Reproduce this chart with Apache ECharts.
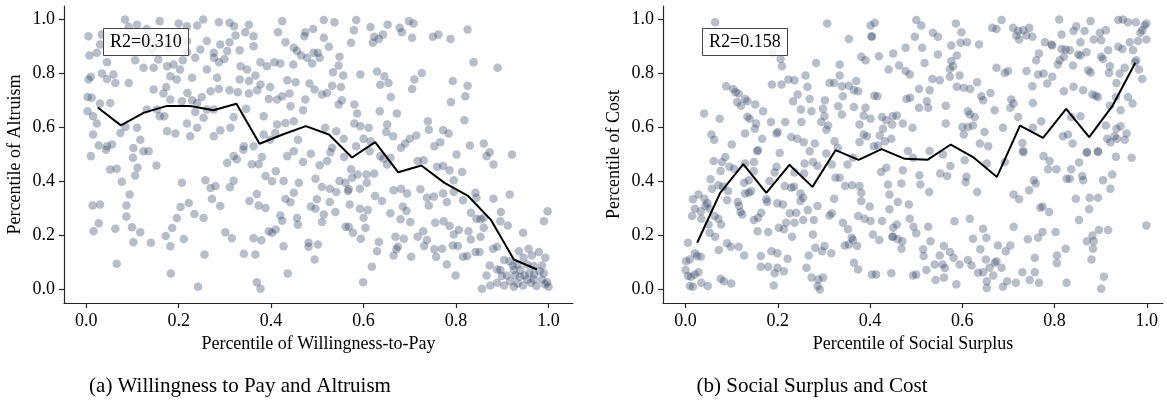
<!DOCTYPE html>
<html>
<head>
<meta charset="utf-8">
<script src="https://cdn.jsdelivr.net/npm/echarts@6/dist/echarts.min.js"></script>
<style>
html, body { margin: 0; padding: 0; background: #fff; }
#chart { width: 1167px; height: 402px; }
</style>
</head>
<body>
<div id="chart"></div>
<script>
const tickValues = [0, 0.2, 0.4, 0.6, 0.8, 1.0]
const binCenters = [0.025, 0.075, 0.125, 0.175, 0.225, 0.275, 0.325, 0.375, 0.425, 0.475,
                    0.525, 0.575, 0.625, 0.675, 0.725, 0.775, 0.825, 0.875, 0.925, 0.975]

// (a) percentile of willingness-to-pay vs percentile of altruism
const wtpAltruismPoints = [
  [0.005,0.938],[0.084,1.0],[0.11,0.981],[0.092,0.973],[0.131,0.965],[0.159,0.994],[0.2,0.985],[0.218,0.975],
  [0.253,1.0],[0.24,0.978],[0.287,0.99],[0.31,0.988],[0.32,0.975],[0.352,0.981],[0.424,0.994],[0.034,0.944],
  [0.261,0.92],[0.29,0.907],[0.31,0.916],[0.323,0.941],[0.344,0.953],[0.362,0.938],[0.415,0.953],[0.431,0.916],
  [0.449,0.895],[0.456,0.883],[0.247,0.889],[0.276,0.877],[0.332,0.886],[0.362,0.901],[0.03,0.907],[0.023,0.877],
  [0.007,0.867],[0.045,0.842],[0.106,0.849],[0.124,0.821],[0.142,0.889],[0.156,0.852],[0.146,0.821],[0.175,0.827],
  [0.189,0.833],[0.182,0.79],[0.203,0.815],[0.209,0.849],[0.218,0.879],[0.236,0.858],[0.276,0.858],[0.287,0.842],
  [0.299,0.854],[0.305,0.883],[0.334,0.827],[0.348,0.815],[0.332,0.778],[0.352,0.772],[0.366,0.793],[0.377,0.842],
  [0.391,0.827],[0.407,0.842],[0.42,0.837],[0.448,0.833],[0.377,0.759],[0.398,0.75],[0.435,0.775],[0.453,0.768],
  [0.37,0.738],[0.352,0.726],[0.328,0.731],[0.31,0.738],[0.287,0.743],[0.269,0.734],[0.25,0.713],[0.24,0.691],
  [0.219,0.728],[0.196,0.778],[0.173,0.75],[0.229,0.784],[0.261,0.815],[0.283,0.784],[0.005,0.778],[0.01,0.788],
  [0.034,0.8],[0.045,0.78],[0.059,0.796],[0.063,0.765],[0.092,0.765],[0.003,0.713],[0.012,0.71],[0.03,0.689],
  [0.052,0.691],[0.003,0.66],[0.015,0.642],[0.023,0.615],[0.015,0.574],[0.027,0.533],[0.045,0.531],[0.056,0.537],
  [0.01,0.494],[0.074,0.58],[0.085,0.602],[0.11,0.599],[0.117,0.555],[0.102,0.524],[0.135,0.512],[0.131,0.667],
  [0.153,0.667],[0.159,0.642],[0.169,0.642],[0.146,0.741],[0.167,0.726],[0.182,0.704],[0.207,0.697],[0.229,0.701],
  [0.236,0.657],[0.254,0.636],[0.261,0.667],[0.276,0.667],[0.175,0.586],[0.193,0.578],[0.225,0.568],[0.218,0.615],
  [0.24,0.599],[0.276,0.568],[0.29,0.59],[0.312,0.599],[0.319,0.639],[0.346,0.669],[0.384,0.642],[0.384,0.574],
  [0.398,0.555],[0.409,0.58],[0.413,0.611],[0.431,0.617],[0.449,0.623],[0.319,0.494],[0.341,0.531],[0.362,0.531],
  [0.38,0.491],[0.435,0.494],[0.449,0.512],[0.458,0.555],[0.442,0.679],[0.395,0.706],[0.413,0.704],[0.424,0.716],
  [0.117,0.932],[0.13,0.916],[0.153,0.907],[0.178,0.895],[0.218,0.92],[0.2,0.928],
  [0.043,0.518],[0.052,0.444],[0.066,0.447],[0.077,0.399],[0.106,0.422],[0.111,0.451],[0.101,0.488],[0.124,0.512],
  [0.152,0.459],[0.014,0.311],[0.03,0.315],[0.016,0.216],[0.027,0.245],[0.063,0.225],[0.066,0.095],[0.087,0.311],
  [0.094,0.352],[0.087,0.27],[0.099,0.231],[0.102,0.175],[0.117,0.212],[0.14,0.173],[0.172,0.198],[0.182,0.16],
  [0.186,0.228],[0.196,0.265],[0.204,0.306],[0.207,0.395],[0.211,0.187],[0.222,0.32],[0.234,0.28],[0.254,0.265],
  [0.256,0.13],[0.258,0.405],[0.269,0.376],[0.28,0.383],[0.272,0.335],[0.29,0.309],[0.183,0.059],[0.242,0.01],
  [0.301,0.212],[0.311,0.379],[0.319,0.403],[0.305,0.469],[0.326,0.482],[0.34,0.518],[0.315,0.19],[0.341,0.132],
  [0.353,0.328],[0.358,0.464],[0.373,0.464],[0.369,0.354],[0.373,0.311],[0.362,0.19],[0.366,0.13],[0.379,0.182],
  [0.369,0.027],[0.377,0.003],[0.388,0.42],[0.388,0.302],[0.395,0.216],[0.402,0.401],[0.402,0.21],[0.41,0.222],
  [0.41,0.438],[0.42,0.274],[0.424,0.255],[0.427,0.16],[0.431,0.335],[0.436,0.059],[0.442,0.323],[0.449,0.358],
  [0.456,0.265],[0.458,0.24],[0.46,0.395],
  [0.514,0.998],[0.537,0.99],[0.584,0.998],[0.615,0.972],[0.652,0.981],[0.678,0.969],[0.698,0.994],[0.708,0.985],
  [0.683,0.953],[0.75,0.936],[0.762,0.944],[0.788,0.928],[0.825,0.963],[0.474,0.953],[0.472,0.938],[0.491,0.965],
  [0.465,0.867],[0.478,0.858],[0.492,0.877],[0.501,0.877],[0.505,0.858],[0.489,0.837],[0.514,0.932],[0.525,0.899],
  [0.579,0.96],[0.573,0.914],[0.62,0.914],[0.623,0.936],[0.633,0.928],[0.642,0.944],[0.705,0.932],[0.548,0.862],
  [0.546,0.83],[0.534,0.805],[0.556,0.793],[0.593,0.796],[0.629,0.807],[0.645,0.79],[0.654,0.765],[0.636,0.758],
  [0.71,0.778],[0.726,0.802],[0.705,0.743],[0.793,0.772],[0.825,0.755],[0.838,0.842],[0.89,0.821],[0.82,0.716],
  [0.789,0.694],[0.818,0.627],[0.483,0.763],[0.494,0.741],[0.51,0.722],[0.521,0.728],[0.532,0.755],[0.551,0.75],
  [0.44,0.726],[0.474,0.704],[0.469,0.664],[0.546,0.685],[0.553,0.701],[0.58,0.685],[0.586,0.652],[0.635,0.66],
  [0.659,0.713],[0.672,0.652],[0.517,0.599],[0.541,0.586],[0.58,0.615],[0.593,0.605],[0.611,0.599],[0.651,0.611],
  [0.557,0.558],[0.6,0.558],[0.615,0.549],[0.649,0.583],[0.664,0.568],[0.739,0.623],[0.741,0.592],[0.772,0.59],
  [0.784,0.578],[0.714,0.57],[0.7,0.558],[0.69,0.541],[0.681,0.525],[0.753,0.531],[0.766,0.545],[0.801,0.5],
  [0.83,0.533],[0.86,0.541],[0.873,0.508],[0.866,0.494],[0.921,0.5],[0.486,0.503],[0.528,0.508],[0.532,0.525],
  [0.584,0.531],[0.613,0.512],[0.558,0.491],
  [0.469,0.472],[0.505,0.46],[0.521,0.476],[0.636,0.494],[0.643,0.484],[0.651,0.463],[0.658,0.488],[0.717,0.476],
  [0.73,0.479],[0.759,0.455],[0.772,0.457],[0.786,0.442],[0.795,0.405],[0.813,0.435],[0.881,0.463],[0.427,0.402],
  [0.496,0.41],[0.51,0.38],[0.527,0.373],[0.541,0.361],[0.548,0.402],[0.561,0.395],[0.568,0.371],[0.575,0.414],
  [0.573,0.445],[0.587,0.426],[0.607,0.395],[0.606,0.426],[0.623,0.43],[0.592,0.373],[0.566,0.365],[0.499,0.334],
  [0.496,0.299],[0.486,0.307],[0.527,0.324],[0.539,0.287],[0.514,0.278],[0.51,0.25],[0.57,0.315],[0.592,0.299],
  [0.609,0.294],[0.6,0.266],[0.561,0.232],[0.568,0.232],[0.577,0.21],[0.594,0.188],[0.604,0.229],[0.625,0.346],
  [0.64,0.328],[0.665,0.368],[0.681,0.373],[0.694,0.356],[0.658,0.282],[0.685,0.307],[0.693,0.291],[0.701,0.25],
  [0.68,0.26],[0.669,0.195],[0.687,0.188],[0.674,0.158],[0.671,0.149],[0.665,0.126],[0.633,0.176],[0.629,0.142],
  [0.703,0.121],[0.618,0.084],[0.599,0.027],[0.481,0.173],[0.481,0.158],[0.501,0.167],[0.494,0.111],[0.723,0.371],
  [0.737,0.34],[0.741,0.311],[0.752,0.344],[0.772,0.356],[0.78,0.324],[0.795,0.361],[0.815,0.331],[0.842,0.358],
  [0.844,0.34],[0.832,0.284],[0.844,0.262],[0.853,0.26],[0.86,0.266],[0.881,0.336],[0.897,0.287],[0.916,0.352],
  [0.896,0.253],[0.912,0.237],[0.945,0.21],[0.998,0.29],[0.99,0.253],[0.755,0.247],[0.773,0.253],[0.786,0.235],
  [0.806,0.22],[0.795,0.204],[0.827,0.216],[0.832,0.185],[0.853,0.195],[0.86,0.229],[0.717,0.195],[0.737,0.183],
  [0.729,0.216],[0.731,0.161],[0.753,0.149],[0.77,0.151],[0.757,0.121],[0.78,0.093],[0.793,0.163],[0.804,0.161],
  [0.815,0.121],[0.824,0.124],[0.842,0.139],[0.851,0.139],[0.799,0.052],[0.88,0.151],[0.889,0.158],[0.873,0.089],
  [0.866,0.052],[0.856,0.003],[0.874,0.015],[0.896,0.072],[0.904,0.109],[0.916,0.105],[0.923,0.089],[0.936,0.142],
  [0.957,0.151],[0.979,0.139],[0.993,0.118],[0.964,0.126],[0.946,0.118],[0.933,0.093],[0.939,0.072],[0.954,0.093],
  [0.968,0.087],[0.986,0.089],[0.981,0.068],[0.928,0.052],[0.938,0.047],[0.948,0.052],[0.959,0.062],[0.969,0.056],
  [0.99,0.06],[0.91,0.052],[0.917,0.031],[0.933,0.022],[0.945,0.015],[0.962,0.025],[0.974,0.013],[0.993,0.019],
  [1.0,0.01],[0.997,0.027],[0.889,0.025],[0.904,0.015],[0.925,0.01],[0.986,0.037],[0.954,0.037],[0.968,0.037],
  [0.889,0.074],[0.899,0.05],[0.925,0.072]
]
const wtpAltruismBinMeans = [0.674, 0.608, 0.655, 0.68, 0.68, 0.664, 0.688, 0.54, 0.574, 0.605,
                             0.574, 0.489, 0.546, 0.434, 0.459, 0.395, 0.348, 0.259, 0.111, 0.074]

// (b) percentile of social surplus vs percentile of cost
const surplusCostPoints = [
  [0.064,0.99],[0.307,0.985],[0.401,0.978],[0.41,0.988],[0.354,0.928],[0.404,0.936],[0.189,0.879],[0.206,0.854],
  [0.209,0.827],[0.283,0.839],[0.334,0.833],[0.381,0.862],[0.39,0.849],[0.419,0.864],[0.44,0.815],[0.45,0.874],
  [0.088,0.753],[0.103,0.743],[0.108,0.731],[0.115,0.726],[0.112,0.694],[0.12,0.681],[0.134,0.697],[0.151,0.685],
  [0.187,0.759],[0.208,0.759],[0.223,0.778],[0.236,0.775],[0.243,0.722],[0.233,0.697],[0.26,0.793],[0.264,0.751],
  [0.269,0.706],[0.25,0.667],[0.273,0.66],[0.302,0.701],[0.312,0.765],[0.322,0.765],[0.334,0.793],[0.339,0.753],
  [0.354,0.755],[0.37,0.772],[0.365,0.738],[0.374,0.734],[0.341,0.716],[0.331,0.679],[0.339,0.648],[0.298,0.669],
  [0.301,0.642],[0.294,0.62],[0.365,0.676],[0.39,0.673],[0.386,0.644],[0.401,0.632],[0.409,0.718],[0.416,0.716],
  [0.426,0.639],[0.435,0.627],[0.449,0.642],[0.428,0.595],[0.386,0.574],[0.393,0.568],[0.421,0.57],[0.04,0.652],
  [0.074,0.632],[0.056,0.574],[0.062,0.555],[0.1,0.537],[0.086,0.491],[0.129,0.706],[0.134,0.64],[0.139,0.632],
  [0.153,0.615],[0.129,0.578],[0.15,0.595],[0.166,0.558],[0.168,0.66],[0.185,0.62],[0.197,0.578],[0.2,0.583],
  [0.216,0.62],[0.229,0.565],[0.242,0.558],[0.256,0.545],[0.28,0.541],[0.269,0.512],[0.204,0.506],[0.157,0.516],
  [0.251,0.62],[0.309,0.607],[0.305,0.592],[0.323,0.549],[0.33,0.525],[0.377,0.546],[0.408,0.531],[0.417,0.533],
  [0.432,0.549],[0.446,0.558],[0.377,0.611],[0.305,0.504],
  [0.061,0.476],[0.079,0.472],[0.095,0.455],[0.105,0.447],[0.076,0.439],[0.054,0.408],[0.071,0.386],[0.081,0.381],
  [0.092,0.365],[0.057,0.373],[0.028,0.352],[0.016,0.334],[0.041,0.336],[0.02,0.299],[0.033,0.29],[0.043,0.309],
  [0.047,0.319],[0.052,0.299],[0.034,0.262],[0.014,0.272],[0.063,0.272],[0.071,0.262],[0.077,0.241],[0.05,0.241],
  [0.052,0.21],[0.064,0.195],[0.005,0.173],[0.001,0.105],[0.009,0.111],[0.02,0.134],[0.025,0.124],[0.033,0.121],
  [0.0,0.072],[0.005,0.05],[0.012,0.047],[0.02,0.056],[0.009,0.013],[0.016,0.01],[0.034,0.025],[0.048,0.013],
  [0.028,0.064],[0.072,0.146],[0.09,0.171],[0.098,0.158],[0.115,0.158],[0.127,0.126],[0.076,0.04],[0.083,0.031],
  [0.099,0.022],[0.09,0.331],[0.113,0.324],[0.116,0.309],[0.123,0.278],[0.119,0.287],[0.129,0.356],[0.137,0.358],
  [0.142,0.365],[0.127,0.395],[0.137,0.405],[0.148,0.439],[0.148,0.472],[0.155,0.513],[0.129,0.467],[0.148,0.257],
  [0.157,0.266],[0.164,0.284],[0.156,0.216],[0.179,0.213],[0.175,0.334],[0.177,0.324],[0.199,0.319],[0.211,0.315],
  [0.202,0.229],[0.213,0.223],[0.218,0.247],[0.226,0.282],[0.236,0.247],[0.231,0.195],[0.24,0.284],[0.255,0.257],
  [0.265,0.294],[0.278,0.257],[0.276,0.204],[0.286,0.309],[0.249,0.356],[0.255,0.34],[0.249,0.328],[0.235,0.381],
  [0.215,0.383],[0.229,0.377],[0.236,0.433],[0.257,0.43],[0.258,0.467],[0.193,0.433],[0.182,0.402],[0.197,0.455],
  [0.276,0.472],[0.286,0.457],[0.317,0.463],[0.325,0.414],[0.334,0.414],[0.322,0.336],[0.312,0.274],[0.317,0.282],
  [0.346,0.383],[0.361,0.386],[0.377,0.383],[0.351,0.463],[0.363,0.488],[0.381,0.358],[0.381,0.328],[0.399,0.307],
  [0.374,0.272],[0.388,0.262],[0.401,0.254],[0.426,0.254],[0.341,0.247],[0.352,0.223],[0.36,0.192],[0.363,0.183],
  [0.345,0.163],[0.354,0.167],[0.372,0.161],[0.406,0.204],[0.42,0.183],[0.365,0.099],[0.374,0.074],[0.404,0.056],
  [0.413,0.056],[0.442,0.352],[0.442,0.297],[0.439,0.389],[0.424,0.435],[0.435,0.451],[0.448,0.195],[0.45,0.229],
  [0.446,0.06],[0.163,0.124],[0.163,0.084],[0.179,0.084],[0.186,0.142],[0.199,0.134],[0.199,0.081],[0.193,0.06],
  [0.221,0.114],[0.213,0.068],[0.191,0.015],[0.262,0.081],[0.267,0.126],[0.281,0.155],[0.296,0.142],[0.316,0.134],
  [0.301,0.161],[0.273,0.044],[0.288,0.037],[0.298,0.044],[0.286,0.013],[0.291,0.0],
  [0.403,0.938],[0.5,0.998],[0.511,0.978],[0.586,0.985],[0.685,0.998],[0.665,0.969],[0.674,0.965],[0.71,0.969],
  [0.721,0.957],[0.732,0.96],[0.745,0.969],[0.717,0.941],[0.739,0.941],[0.752,0.936],[0.723,0.926],[0.81,1.0],
  [0.847,0.975],[0.841,0.957],[0.878,0.994],[0.865,0.957],[0.898,0.951],[0.911,0.96],[0.938,0.998],[0.948,1.0],
  [0.959,0.99],[0.976,0.99],[0.995,0.978],[0.999,0.985],[0.99,0.96],[0.986,0.951],[0.999,0.926],[0.981,0.92],
  [0.815,0.944],[0.497,0.936],[0.536,0.951],[0.547,0.936],[0.598,0.953],[0.596,0.914],[0.61,0.916],[0.576,0.904],
  [0.636,0.907],[0.477,0.895],[0.513,0.895],[0.518,0.839],[0.547,0.87],[0.576,0.846],[0.588,0.867],[0.573,0.817],
  [0.58,0.827],[0.594,0.793],[0.573,0.788],[0.477,0.809],[0.486,0.796],[0.463,0.83],[0.535,0.78],[0.551,0.775],
  [0.632,0.768],[0.588,0.751],[0.603,0.747],[0.617,0.743],[0.506,0.743],[0.529,0.738],[0.479,0.706],[0.487,0.71],
  [0.523,0.697],[0.526,0.673],[0.506,0.673],[0.564,0.681],[0.641,0.716],[0.645,0.701],[0.661,0.728],[0.67,0.664],
  [0.706,0.704],[0.711,0.689],[0.704,0.673],[0.721,0.639],[0.612,0.66],[0.616,0.648],[0.627,0.639],[0.448,0.611],
  [0.458,0.644],[0.471,0.615],[0.492,0.599],[0.564,0.615],[0.6,0.602],[0.612,0.602],[0.623,0.607],[0.603,0.574],
  [0.648,0.583],[0.688,0.599],[0.73,0.543],[0.732,0.508],[0.753,0.599],[0.771,0.623],[0.638,0.541],[0.656,0.531],
  [0.674,0.821],[0.692,0.802],[0.699,0.809],[0.739,0.809],[0.76,0.849],[0.766,0.874],[0.779,0.916],[0.793,0.907],
  [0.795,0.904],[0.815,0.891],[0.824,0.889],[0.833,0.886],[0.82,0.862],[0.811,0.849],[0.807,0.833],[0.84,0.83],
  [0.851,0.87],[0.856,0.867],[0.869,0.879],[0.856,0.916],[0.885,0.926],[0.901,0.923],[0.916,0.886],[0.938,0.899],
  [0.947,0.891],[0.963,0.916],[0.97,0.886],[0.901,0.862],[0.905,0.854],[0.92,0.827],[0.952,0.821],[0.983,0.815],
  [0.977,0.849],[0.974,0.842],[0.99,0.78],[0.941,0.8],[0.918,0.802],[0.873,0.812],[0.878,0.804],[0.841,0.751],
  [0.82,0.734],[0.795,0.788],[0.784,0.763],[0.776,0.8],[0.764,0.796],[0.752,0.753],[0.862,0.738],[0.882,0.722],
  [0.894,0.713],[0.889,0.718],[0.934,0.765],[0.959,0.713],[0.969,0.689],[0.933,0.713],[0.943,0.664],[0.92,0.681],
  [0.911,0.607],[0.934,0.595],[0.943,0.605],[0.956,0.578],[0.93,0.568],[0.914,0.558],[0.921,0.545],[0.935,0.558],
  [0.952,0.555],[0.836,0.639],[0.856,0.642],[0.818,0.568],[0.829,0.574],[0.839,0.541],[0.87,0.508],[0.894,0.512],
  [0.753,0.691],
  [0.471,0.442],[0.507,0.423],[0.552,0.43],[0.567,0.42],[0.609,0.418],[0.468,0.393],[0.509,0.389],[0.528,0.361],
  [0.46,0.324],[0.484,0.315],[0.458,0.241],[0.486,0.262],[0.494,0.232],[0.526,0.232],[0.5,0.208],[0.45,0.195],
  [0.46,0.186],[0.47,0.179],[0.468,0.151],[0.531,0.179],[0.515,0.149],[0.516,0.124],[0.551,0.126],[0.56,0.161],
  [0.573,0.139],[0.581,0.118],[0.594,0.093],[0.54,0.093],[0.557,0.093],[0.562,0.08],[0.522,0.072],[0.493,0.052],
  [0.5,0.056],[0.542,0.035],[0.56,0.044],[0.587,0.019],[0.583,0.253],[0.616,0.262],[0.623,0.188],[0.645,0.225],
  [0.652,0.192],[0.639,0.149],[0.612,0.109],[0.62,0.089],[0.634,0.062],[0.645,0.064],[0.651,0.111],[0.659,0.081],
  [0.67,0.099],[0.677,0.163],[0.674,0.105],[0.685,0.081],[0.667,0.052],[0.653,0.031],[0.653,0.006],[0.688,0.01],
  [0.697,0.031],[0.694,0.142],[0.704,0.163],[0.711,0.232],[0.716,0.025],[0.73,0.064],[0.742,0.186],[0.746,0.035],
  [0.757,0.118],[0.757,0.064],[0.764,0.192],[0.766,0.025],[0.774,0.213],[0.802,0.213],[0.805,0.126],[0.805,0.097],
  [0.824,0.151],[0.826,0.025],[0.853,0.257],[0.87,0.179],[0.882,0.2],[0.885,0.179],[0.883,0.151],[0.88,0.111],
  [0.896,0.22],[0.916,0.22],[0.907,0.047],[0.901,0.003],[0.999,0.237],[0.711,0.352],[0.723,0.334],[0.745,0.368],
  [0.755,0.405],[0.759,0.393],[0.769,0.303],[0.774,0.307],[0.788,0.287],[0.776,0.494],[0.789,0.476],[0.786,0.445],
  [0.804,0.445],[0.826,0.41],[0.833,0.41],[0.836,0.445],[0.86,0.42],[0.862,0.405],[0.853,0.47],[0.87,0.507],
  [0.894,0.509],[0.905,0.405],[0.925,0.426],[0.921,0.373],[0.933,0.492],[0.967,0.488],[0.846,0.336],[0.876,0.34],
  [0.894,0.34],[0.875,0.297],[0.607,0.398],[0.632,0.361],[0.574,0.457],[0.605,0.479],[0.653,0.467],[0.692,0.472],
  [0.732,0.513],[0.493,0.488],[0.482,0.513],[0.529,0.513],[0.558,0.5]
]
const surplusCostBinMeans = [0.173, 0.358, 0.464, 0.358, 0.462, 0.38, 0.516, 0.48, 0.52, 0.484,
                             0.481, 0.537, 0.488, 0.417, 0.607, 0.562, 0.669, 0.564, 0.679, 0.84]

const r2Labels = ['R2=0.310', 'R2=0.158']
const xNames = ['Percentile of Willingness-to-Pay', 'Percentile of Social Surplus']
const yNames = ['Percentile of Altruism', 'Percentile of Cost']
const captions = ['(a) Willingness to Pay and Altruism', '(b) Social Surplus and Cost']

const font = '"Liberation Serif", "Times New Roman", serif'
const ink = '#262626'
const dotColor = '#324164'

function pairs(xs, ys) {
  return _zip(xs, ys)
}
function _zip(a, b) {
  return a.map((v, i) => [v, b[i]])
}

function xAxisOf(i, min, max) {
  return {
    gridIndex: i, type: 'value', min, max,
    name: xNames[i], nameLocation: 'middle', nameGap: 30,
    nameTextStyle: { fontFamily: font, fontSize: 18, color: '#000' },
    axisLine: { show: true, onZero: false, lineStyle: { color: ink, width: 1.2 } },
    axisTick: { show: true, length: 5, customValues: tickValues, lineStyle: { color: ink, width: 1.2 } },
    axisLabel: { customValues: tickValues, margin: 9, fontFamily: font, fontSize: 18, color: '#000',
                 formatter: v => v.toFixed(1) },
    splitLine: { show: false },
  }
}
function yAxisOf(i) {
  return {
    gridIndex: i, type: 'value', min: -0.05, max: 1.05,
    name: yNames[i], nameLocation: 'middle', nameGap: 40,
    nameTextStyle: { fontFamily: font, fontSize: 18, color: '#000' },
    axisLine: { show: true, onZero: false, lineStyle: { color: ink, width: 1.2 } },
    axisTick: { show: true, length: 5, customValues: tickValues, lineStyle: { color: ink, width: 1.2 } },
    axisLabel: { customValues: tickValues, margin: 9, fontFamily: font, fontSize: 18, color: '#000',
                 formatter: v => v.toFixed(1) },
    splitLine: { show: false },
  }
}
function scatterOf(i, data) {
  return {
    type: 'scatter', xAxisIndex: i, yAxisIndex: i, data,
    symbolSize: 8.5, z: 2, silent: true,
    itemStyle: { color: dotColor, opacity: 0.35, borderWidth: 0 },
  }
}
function lineOf(i, means) {
  return {
    type: 'line', xAxisIndex: i, yAxisIndex: i, data: pairs(binCenters, means),
    showSymbol: false, z: 3, silent: true,
    lineStyle: { color: '#000', width: 2 },
  }
}
function r2Box(text, left) {
  return {
    text, left, top: 28, padding: [5, 7],
    borderWidth: 1, borderColor: '#444', backgroundColor: 'rgba(255,255,255,0.8)',
    textStyle: { fontFamily: font, fontSize: 18, fontWeight: 'normal', color: '#000' },
  }
}

const chart = echarts.init(document.getElementById('chart'), null, { renderer: 'canvas' })
chart.setOption({
  animation: false,
  backgroundColor: '#fff',
  grid: [
    { left: 64, top: 6, width: 509, height: 297 },
    { left: 663, top: 6, width: 500, height: 297 },
  ],
  xAxis: [xAxisOf(0, -0.048, 1.053), xAxisOf(1, -0.049, 1.035)],
  yAxis: [yAxisOf(0), yAxisOf(1)],
  title: [r2Box(r2Labels[0], 103), r2Box(r2Labels[1], 702)],
  graphic: [
    { type: 'text', x: 240, y: 386, style: { text: captions[0], fontFamily: font, fontSize: 21, fill: '#000', align: 'center', verticalAlign: 'middle' } },
    { type: 'text', x: 812, y: 386, style: { text: captions[1], fontFamily: font, fontSize: 21, fill: '#000', align: 'center', verticalAlign: 'middle' } },
  ],
  series: [
    scatterOf(0, wtpAltruismPoints),
    lineOf(0, wtpAltruismBinMeans),
    scatterOf(1, surplusCostPoints),
    lineOf(1, surplusCostBinMeans),
  ],
})
</script>
</body>
</html>
